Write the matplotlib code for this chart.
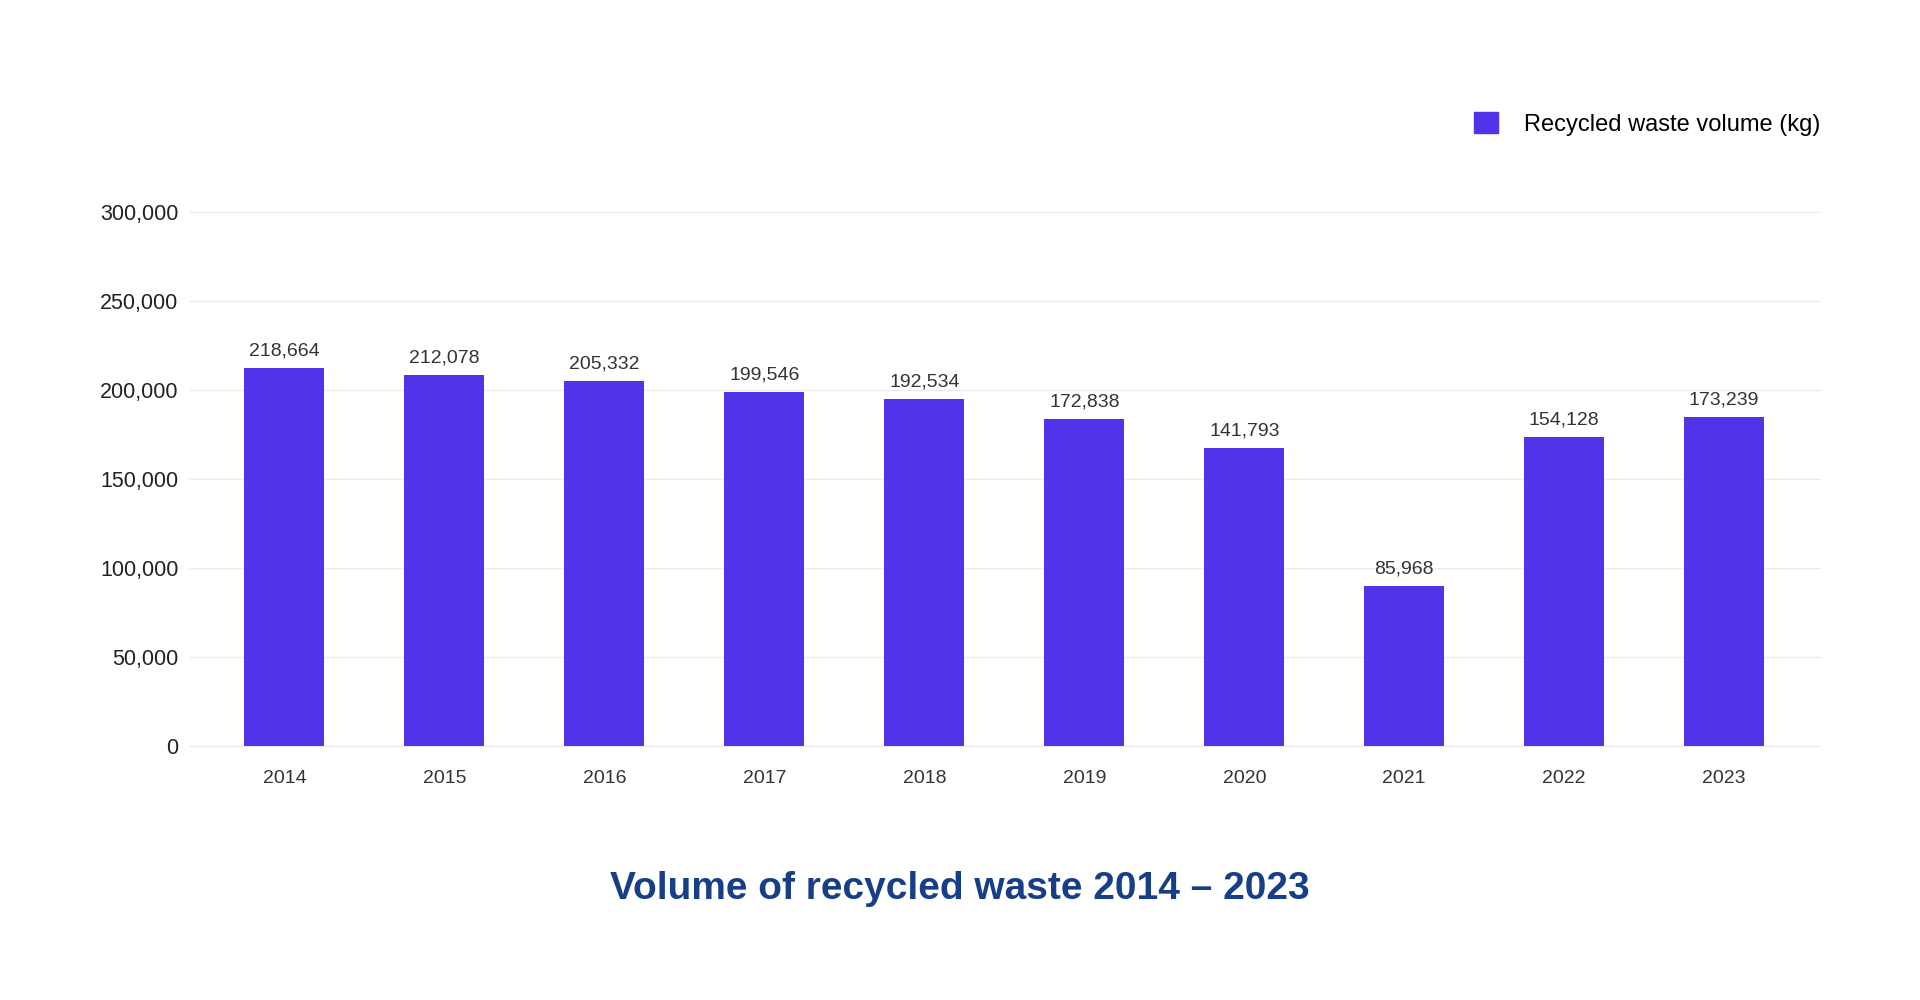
import matplotlib.pyplot as plt
from matplotlib.patches import Patch

# data (bar heights and printed labels differ in the source)
years = ['2014', '2015', '2016', '2017', '2018', '2019', '2020', '2021', '2022', '2023']
bar_heights = [212500, 208600, 205200, 199100, 195100, 183900, 167500, 89900, 173700, 185000]
bar_labels = ['218,664', '212,078', '205,332', '199,546', '192,534',
              '172,838', '141,793', '85,968', '154,128', '173,239']
y_ticks = [0, 50000, 100000, 150000, 200000, 250000, 300000]
y_tick_labels = ['0', '50,000', '100,000', '150,000', '200,000', '250,000', '300,000']

bar_color = '#5233ea'
title_color = '#173f87'

plt.rcParams['font.family'] = ['Liberation Sans', 'DejaVu Sans']

fig = plt.figure(figsize=(19.2, 10), dpi=100)
ax = fig.add_axes([0.099, 0.254, 0.849, 0.534])

x = list(range(len(years)))
bars = ax.bar(x, bar_heights, width=0.5, color=bar_color, zorder=2)
ax.bar_label(bars, labels=bar_labels, padding=6, fontsize=14, color='#333333')

ax.set_xlim(-0.59, 9.6)
ax.set_ylim(0, 300000)
ax.set_xticks(x, years)
ax.set_yticks(y_ticks, y_tick_labels)
ax.tick_params(axis='x', length=0, pad=17, labelsize=14, labelcolor='#333333')
ax.tick_params(axis='y', length=0, pad=8.5, labelsize=15.5, labelcolor='#222222')

for s in ax.spines.values():
    s.set_visible(False)
ax.grid(axis='y', color='#ebebeb', linewidth=1, zorder=0)
ax.set_axisbelow(True)
for gl in ax.get_ygridlines():
    gl.set_clip_on(False)

fig.legend(handles=[Patch(color=bar_color, label='Recycled waste volume (kg)')],
           loc='center right', bbox_to_anchor=(0.959, 0.876), frameon=False,
           fontsize=17, handlelength=1.0, handleheight=1.0, handletextpad=1.1)

fig.text(0.5, 0.111, 'Volume of recycled waste 2014 – 2023', ha='center', va='center',
         fontsize=28, fontweight='bold', color=title_color)

fig.savefig('out.png', dpi=100, facecolor='white')
